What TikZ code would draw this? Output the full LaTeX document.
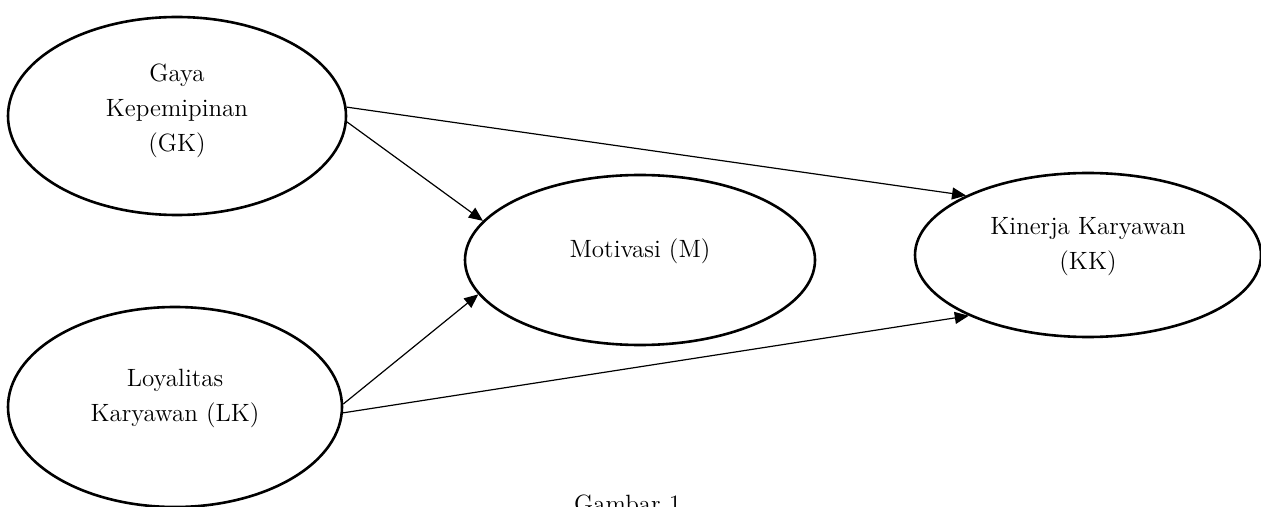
\documentclass[tikz,border=0pt]{standalone}
\usetikzlibrary{arrows.meta,shapes.geometric}

\begin{document}
\begin{tikzpicture}[
  x=.5pt,y=-.5pt,
  var/.style={ellipse,draw=black,line width=1.3pt,inner sep=0pt,
    align=center,font=\fontsize{12.5}{17.5}\selectfont,text depth=12pt},
  link/.style={draw=black,line width=.6pt,-{Triangle[length=7pt,width=6pt]}},
  caption/.style={font=\fontsize{12.5}{14}\selectfont,anchor=base west}
]
  \useasboundingbox (0,0) rectangle (1261,507);
  \coordinate (g) at (177,116);
  \coordinate (l) at (175,407);
  \coordinate (m) at (640,260);
  \coordinate (k) at (1088,255);
  \node[var,minimum width=169pt,minimum height=99pt,text depth=8pt] (gk) at (g)
    {Gaya\\Kepemipinan\\(GK)};
  \node[var,minimum width=167pt,minimum height=100pt] (lk) at (l)
    {Loyalitas\\Karyawan (LK)};
  \node[var,minimum width=175pt,minimum height=85pt] (mo) at (m)
    {Motivasi (M)};
  \node[var,minimum width=173pt,minimum height=82pt] (kk) at (k)
    {Kinerja Karyawan\\(KK)};
  \draw[link] (gk.3) -- (kk.154);
  \draw[link] (gk.-2) -- (mo.166);
  \draw[link] (lk.1) -- (mo.192);
  \draw[link] (lk.-2) -- (kk.207);
  \node[caption] (cap) at (567,512) {Gambar 1};
\end{tikzpicture}
\end{document}
